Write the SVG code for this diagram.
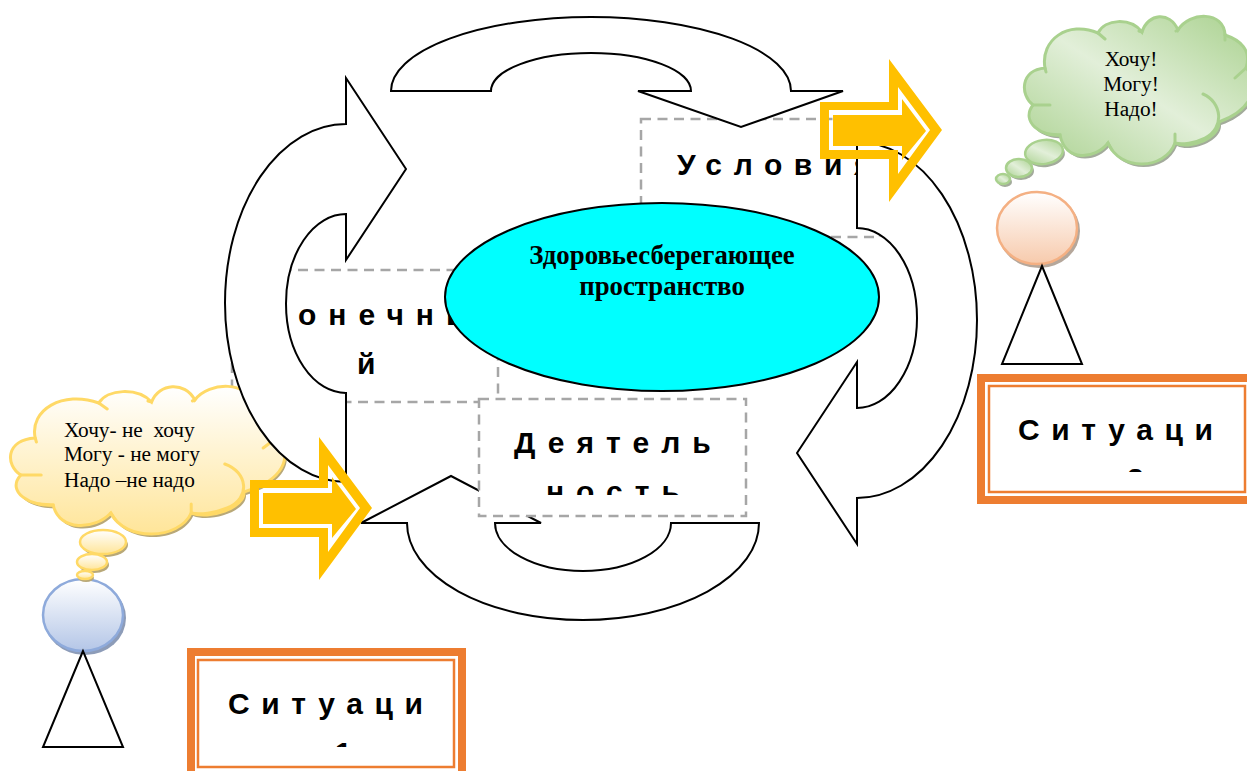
<svg xmlns="http://www.w3.org/2000/svg" width="1247" height="771" viewBox="0 0 1247 771">
<style>
.arrow{fill:#fff;stroke:#000;stroke-width:2;stroke-linejoin:miter}
.box{fill:#fff;stroke:#a6a6a6;stroke-width:2.5;stroke-dasharray:10 6.5}
.lbl{font-family:"Liberation Sans",Arial,sans-serif;font-weight:700;font-size:30px;fill:#000;letter-spacing:12px}
.tight{letter-spacing:11.6px}
.say{font-family:"Liberation Serif","Times New Roman",serif;font-size:21.3px;fill:#000;white-space:pre}
.core{font-family:"Liberation Serif","Times New Roman",serif;font-weight:700;font-size:26.8px;fill:#000;text-anchor:middle}
.tri{fill:#fff;stroke:#000;stroke-width:2}
.o{fill:none;stroke:#ed7d31}
.mark{fill:none;stroke-width:3;stroke-linecap:round}
</style>
<defs>
<linearGradient id="gy" x1="0" y1="0" x2="0" y2="1"><stop offset="0" stop-color="#fff"/><stop offset="1" stop-color="#ffe599"/></linearGradient>
<linearGradient id="gg" x1="0" y1="1" x2="1" y2="0"><stop offset="0" stop-color="#a9d18e"/><stop offset=".5" stop-color="#e2efd9"/><stop offset="1" stop-color="#a9d18e"/></linearGradient>
<linearGradient id="gb" x1="0" y1="0" x2="0" y2="1"><stop offset="0" stop-color="#fff"/><stop offset="1" stop-color="#b4c6e7"/></linearGradient>
<linearGradient id="go" x1="0" y1="0" x2="0" y2="1"><stop offset="0" stop-color="#fff"/><stop offset="1" stop-color="#f7caac"/></linearGradient>
<path id="cloud" vector-effect="non-scaling-stroke" d="M1045,68C1040,40 1068,20 1098,33C1105,19 1130,17 1142,32C1148,13 1170,11 1178,30C1190,11 1224,11 1225,35C1240,40 1252,50 1246,68C1258,80 1258,108 1219,122C1220,138 1190,150 1175,143C1165,170 1120,172 1108,143C1095,160 1065,162 1060,135C1042,137 1020,122 1033,105C1020,95 1020,70 1045,68Z"/>
<path id="marks" vector-effect="non-scaling-stroke" d="M1045,68L1046,72M1098,33L1105,39M1142,32L1139,31M1178,30L1176,31M1225,35L1225,40M1246,68L1235,78M1203,94C1222,102 1225,128 1205,138C1195,143 1182,145 1175,143L1175,134M1108,143L1112,150M1060,135L1048,134M1033,105L1050,105"/>
<path id="ring" fill-rule="evenodd" fill="#ffc000" d="M820,102H889V59L942,130L889,202V159H820ZM829,110V150H898V174L930,130L898,87V110Z"/>
<path id="core" fill="#ffc000" d="M833,115H902V99L926,131L902,160V146H833Z"/>
<clipPath id="c1"><rect x="480" y="400" width="265" height="95"/></clipPath>
<clipPath id="c2"><rect x="190" y="650" width="270" height="97"/></clipPath>
<clipPath id="c3"><rect x="980" y="376" width="267" height="96"/></clipPath>
</defs>

<g id="box-conditions"><rect class="box" x="641" y="119" width="239" height="118"/><text class="lbl tight" x="677" y="175">Условия</text></g>
<g id="box-final"><rect class="box" x="232" y="270" width="266" height="132"/><text class="lbl" x="298" y="325">онечны</text><text class="lbl" x="357" y="374">й</text></g>

<g id="person-left">
<ellipse cx="85" cy="618" rx="41" ry="37" fill="#8d9cb8"/>
<ellipse cx="83" cy="615" rx="40" ry="36" fill="url(#gb)" stroke="#8eaadb" stroke-width="2.5"/>
<path class="tri" d="M83,651L43,747H123Z"/>
</g>

<g id="cloud-left">
<use href="#cloud" transform="matrix(1.2 0 0 1 -1216.8 373)" fill="#b8a878"/>
<use href="#cloud" transform="matrix(1.2 0 0 1 -1218.8 370)" fill="url(#gy)" stroke="#ffd966" stroke-width="3"/>
<use href="#marks" transform="matrix(1.2 0 0 1 -1218.8 370)" class="mark" stroke="#ffd966"/>
<ellipse cx="105" cy="545" rx="23" ry="12" fill="#b8a878"/><ellipse cx="103" cy="542" rx="23" ry="12" fill="url(#gy)" stroke="#ffd966" stroke-width="2.5"/>
<ellipse cx="94" cy="565" rx="15" ry="8" fill="#b8a878"/><ellipse cx="92" cy="562" rx="15" ry="8" fill="url(#gy)" stroke="#ffd966" stroke-width="2.5"/>
<ellipse cx="86" cy="578" rx="8" ry="4" fill="#b8a878"/><ellipse cx="85" cy="575" rx="8" ry="4" fill="url(#gy)" stroke="#ffd966" stroke-width="2.5"/>
<text class="say" x="64" y="437">Хочу- не  хочу</text><text class="say" x="64" y="461">Могу - не могу</text><text class="say" x="64" y="487">Надо –не надо</text>
</g>

<g id="connectors">
<path class="arrow" d="M843,91L741,127L638,91H691A100,38 0 0 0 491,91H391A200,74 0 0 1 791,91Z"/>
<path class="arrow" d="M406,169L346,78V124A121,179 0 0 0 346,482V393A60,89.5 0 0 1 346,214V260Z"/>
<path class="arrow" d="M797,453L857,362V408A60,90 0 0 0 857,228V142A120,178 0 0 1 857,498V544Z"/>
<path class="arrow" d="M361,523L451,476L541,523H495A88,48 0 0 0 671,523H759A176,97 0 0 1 407,523Z"/>
</g>

<g id="box-activity"><rect class="box" x="479" y="399" width="267" height="117"/><text class="lbl" x="514" y="453">Деятель</text><g clip-path="url(#c1)"><text class="lbl" x="546" y="502">ность</text></g></g>

<g id="center"><ellipse cx="662" cy="297" rx="217" ry="94" fill="#0ff" stroke="#000" stroke-width="2"/><text class="core" x="662" y="264">Здоровьесберегающее</text><text class="core" x="662" y="295">пространство</text></g>

<g id="arrow-right"><use href="#ring"/><use href="#core"/></g>
<g id="arrow-left" transform="translate(-570 378)"><use href="#ring"/><use href="#core"/></g>

<g id="cloud-right">
<use href="#cloud" transform="translate(2 3)" fill="#a3ab9b"/>
<use href="#cloud" fill="url(#gg)" stroke="#a9d18e" stroke-width="3"/>
<use href="#marks" class="mark" stroke="#a9d18e"/>
<ellipse cx="1046" cy="155" rx="19" ry="12" fill="#a3ab9b" transform="rotate(-8 1046 155)"/><ellipse cx="1044" cy="152" rx="19" ry="12" fill="url(#gg)" stroke="#a9d18e" stroke-width="2.5" transform="rotate(-8 1044 152)"/>
<ellipse cx="1021" cy="171" rx="13" ry="9" fill="#a3ab9b"/><ellipse cx="1019" cy="168" rx="13" ry="9" fill="url(#gg)" stroke="#a9d18e" stroke-width="2.5"/>
<ellipse cx="1005" cy="182" rx="7" ry="5" fill="#a3ab9b"/><ellipse cx="1003" cy="179" rx="7" ry="5" fill="url(#gg)" stroke="#a9d18e" stroke-width="2.5"/>
<text class="say" x="1131" y="66" text-anchor="middle">Хочу!</text><text class="say" x="1131" y="91" text-anchor="middle">Могу!</text><text class="say" x="1131" y="116" text-anchor="middle">Надо!</text>
</g>

<g id="person-right">
<ellipse cx="1039" cy="231" rx="41" ry="37" fill="#b5a79b"/>
<ellipse cx="1037" cy="228" rx="40" ry="36" fill="url(#go)" stroke="#f4b083" stroke-width="2.5"/>
<path class="tri" d="M1042,266L1002,364H1082Z"/>
</g>

<g id="situation-1">
<rect class="o" x="191" y="652" width="271" height="130" stroke-width="8"/>
<rect class="o" x="198" y="660" width="256" height="107" stroke-width="2.5"/>
<text class="lbl tight" x="228" y="714">Ситуаци</text>
<g clip-path="url(#c2)"><text class="lbl" x="335" y="763">1</text></g>
</g>
<g id="situation-2">
<rect class="o" x="981" y="378" width="300" height="122" stroke-width="8"/>
<rect class="o" x="989" y="386" width="256" height="106" stroke-width="2.5"/>
<text class="lbl tight" x="1018" y="440">Ситуаци</text>
<g clip-path="url(#c3)"><text class="lbl" x="1127" y="489">2</text></g>
</g>
</svg>
